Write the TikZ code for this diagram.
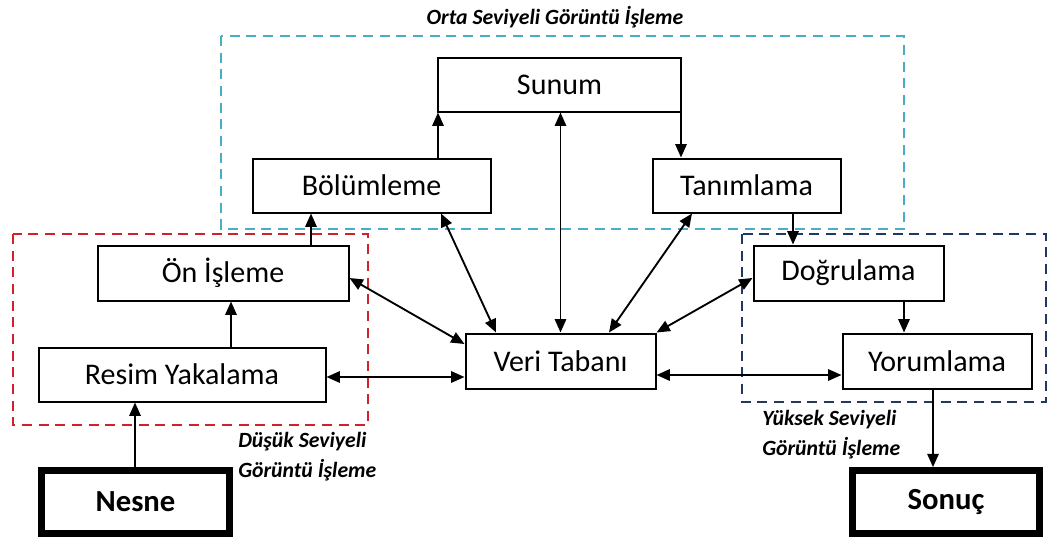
\documentclass[tikz,border=0pt]{standalone}
\usepackage{fontspec}
\setmainfont{Carlito}
\usetikzlibrary{arrows.meta}
\definecolor{lowred}{RGB}{208,34,44}
\definecolor{midcyan}{RGB}{75,172,198}
\definecolor{highnavy}{RGB}{31,56,100}
\begin{document}
\begin{tikzpicture}[x=0.75pt,y=-0.75pt,
  box/.style 2 args={draw, line width=1.5pt, fill=white, inner sep=0pt,
    minimum width=#1*0.75pt, minimum height=#2*0.75pt,
    font=\fontsize{22.5}{25}\selectfont},
  endbox/.style 2 args={box={#1}{#2}, line width=5pt, font=\fontsize{23}{25}\selectfont\bfseries},
  arr/.style={line width=1.4pt, -{Triangle[length=10pt,width=8.5pt]}},
  dbl/.style={line width=1.4pt, {Triangle[length=10pt,width=8.5pt]}-{Triangle[length=10pt,width=8.5pt]}},
  grp/.style={line width=1.5pt, dash pattern=on 7.5pt off 5pt},
  grplabel/.style={font=\fontsize{16.3}{22.5}\selectfont\bfseries\itshape, inner sep=0pt}]
\useasboundingbox (0,0) rectangle (1049,540);

% processing level regions
\draw[grp, midcyan] (221,36) rectangle (904,229);
\draw[grp, lowred] (13,234) rectangle (368,425);
\draw[grp, highnavy] (742,234) rectangle (1046,402);

% region titles
\node[grplabel] (midlbl) at (555,17) {Orta Seviyeli Görüntü İşleme};
\node[grplabel, anchor=west, align=left] (lowlbl) at (238,457) {Düşük Seviyeli\\Görüntü İşleme};
\node[grplabel, anchor=west, align=left] (highlbl) at (762,435) {Yüksek Seviyeli\\Görüntü İşleme};

% processing steps
\node[box={243}{54}] (sunum) at (559.5,84.5) {Sunum};
\node[box={238}{54}] (bolum) at (371.5,185.5) {Bölümleme};
\node[box={188}{54}] (tanim) at (746.5,185.5) {Tanımlama};
\node[box={251}{55}] (onis) at (223,273) {Ön İşleme};
\node[box={190}{55}] (dogru) at (848.5,273) {Doğrulama};
\node[box={287}{54}] (resim) at (182,374.5) {Resim Yakalama};
\node[box={190}{55}] (veri) at (560.5,361) {Veri Tabanı};
\node[box={189}{55}] (yorum) at (937,361) {Yorumlama};
\node[endbox={188}{63}] (nesne) at (135.5,502) {Nesne};
\node[endbox={187}{63}] (sonuc) at (946,502) {Sonuç};

% flow
\draw[arr] (135,0 |- nesne.north) -- (135,0 |- resim.south);
\draw[arr] (231,0 |- resim.north) -- (231,0 |- onis.south);
\draw[arr] (311,0 |- onis.north) -- (311,0 |- bolum.south);
\draw[arr] (438,0 |- bolum.north) -- (438,0 |- sunum.south);
\draw[arr] (681,0 |- sunum.south) -- (681,0 |- tanim.north);
\draw[arr] (793,0 |- tanim.south) -- (793,0 |- dogru.north);
\draw[arr] (904,0 |- dogru.south) -- (904,0 |- yorum.north);
\draw[arr] (933,0 |- yorum.south) -- (933,0 |- sonuc.north);

% database links
\draw[dbl] (560.5,0 |- veri.north) -- (560.5,0 |- sunum.south);
\draw[dbl] (441,0 |- bolum.south) -- (496,0 |- veri.north);
\draw[dbl] (692,0 |- tanim.south) -- (609,0 |- veri.north);
\draw[dbl] (onis.east |- 0,278) -- (veri.west |- 0,344);
\draw[dbl] (dogru.west |- 0,278) -- (veri.north east);
\draw[dbl] (resim.east |- 0,377) -- (veri.west |- 0,377);
\draw[dbl] (veri.east |- 0,375) -- (yorum.west |- 0,375);
\end{tikzpicture}
\end{document}
